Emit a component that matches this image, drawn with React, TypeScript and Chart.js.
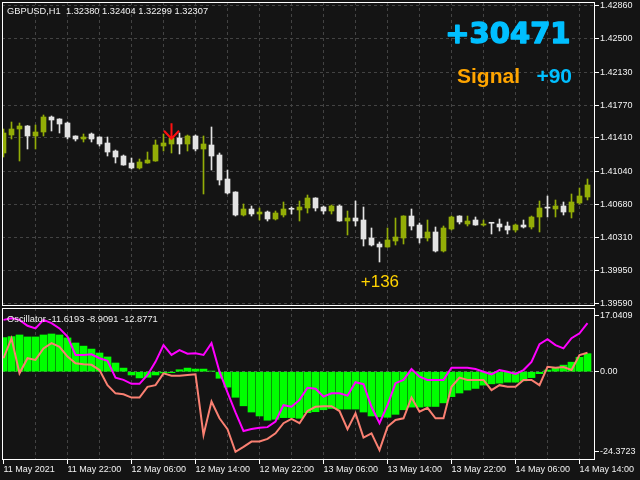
import React, { useEffect, useRef } from "react";
import { Chart, registerables } from "chart.js";

Chart.register(...registerables);

// ---------- texts ----------
const symbolHeader = "GBPUSD,H1  1.32380 1.32404 1.32299 1.32307";
const oscillatorHeader = "Oscillator -11.6193 -8.9091 -12.8771";
const profitText = "+30471";
const signalWord = "Signal";
const signalValue = "+90";
const tradeResult = "+136";

// ---------- time axis ----------
const timeLabels = [
  "11 May 2021", "11 May 22:00", "12 May 06:00", "12 May 14:00", "12 May 22:00",
  "13 May 06:00", "13 May 14:00", "13 May 22:00", "14 May 06:00", "14 May 14:00",
];

// ---------- candles (H1) ----------
const opens = [
  1.41243, 1.41441, 1.41507, 1.4154, 1.4143, 1.41474, 1.41639, 1.41617, 1.41573, 1.4143,
  1.41397, 1.41452, 1.41419, 1.41353, 1.41265, 1.4121, 1.41133, 1.41078, 1.41133, 1.41155,
  1.4132, 1.41342, 1.41408, 1.41342, 1.4143, 1.41287, 1.41331, 1.41221, 1.40957, 1.40814,
  1.40561, 1.40627, 1.40572, 1.40594, 1.40517, 1.40561, 1.40627, 1.40616, 1.40638, 1.40748,
  1.40649, 1.40605, 1.4066, 1.40495, 1.40528, 1.40506, 1.40308, 1.40242, 1.40209, 1.40275,
  1.40308, 1.4055, 1.40451, 1.40308, 1.40374, 1.40165, 1.40407, 1.4055, 1.40462, 1.40506,
  1.40451, 1.40473, 1.40462, 1.4044, 1.40396, 1.40451, 1.40429, 1.40539, 1.4064, 1.40627,
  1.4066, 1.40594, 1.40693, 1.40759,
];
const highs = [
  1.41507, 1.41584, 1.41573, 1.41545, 1.41551, 1.41661, 1.4165, 1.4162, 1.41584, 1.41432,
  1.41452, 1.41463, 1.41421, 1.41419, 1.41276, 1.41221, 1.41188, 1.41177, 1.41254, 1.41386,
  1.41452, 1.41419, 1.41463, 1.41441, 1.41441, 1.4143, 1.41529, 1.41243, 1.41056, 1.40817,
  1.40682, 1.4066, 1.40638, 1.40605, 1.40605, 1.40704, 1.40649, 1.40715, 1.40781, 1.40751,
  1.4066, 1.40671, 1.40671, 1.40605, 1.40715, 1.40649, 1.40418, 1.40264, 1.40418, 1.40528,
  1.40553, 1.40627, 1.40473, 1.40506, 1.40429, 1.4044, 1.4055, 1.40553, 1.4055, 1.40539,
  1.40506, 1.40475, 1.40517, 1.40484, 1.40462, 1.40506, 1.4055, 1.40715, 1.4077, 1.40726,
  1.40704, 1.40792, 1.40858, 1.40957,
];
const lows = [
  1.41199, 1.41397, 1.41155, 1.41287, 1.41287, 1.4143, 1.41485, 1.41463, 1.41397, 1.41375,
  1.41364, 1.41364, 1.4132, 1.4121, 1.41133, 1.41108, 1.41067, 1.41067, 1.4113, 1.41152,
  1.41265, 1.41243, 1.41232, 1.41265, 1.41265, 1.40792, 1.41056, 1.40891, 1.40792, 1.4055,
  1.4055, 1.4055, 1.40506, 1.40495, 1.40506, 1.40539, 1.40572, 1.40495, 1.40583, 1.40605,
  1.40572, 1.40572, 1.40492, 1.40341, 1.4044, 1.4022, 1.4022, 1.40044, 1.40206, 1.40231,
  1.40242, 1.40396, 1.40253, 1.40275, 1.40154, 1.40154, 1.40396, 1.40462, 1.4044, 1.40448,
  1.4044, 1.40352, 1.40385, 1.40352, 1.40374, 1.40418, 1.40407, 1.40374, 1.40539, 1.40539,
  1.40561, 1.40528, 1.40682, 1.40726,
];
const closes = [
  1.41463, 1.41507, 1.4154, 1.4143, 1.41474, 1.41639, 1.41606, 1.41562, 1.41419, 1.41397,
  1.41419, 1.41397, 1.41342, 1.41254, 1.41199, 1.41111, 1.41078, 1.41144, 1.41166, 1.41331,
  1.41353, 1.41408, 1.41342, 1.4143, 1.41287, 1.41342, 1.4121, 1.40946, 1.40803, 1.40561,
  1.40627, 1.40572, 1.40594, 1.40517, 1.40583, 1.40627, 1.40624, 1.40649, 1.40748, 1.40638,
  1.40605, 1.4066, 1.40495, 1.40528, 1.40495, 1.40297, 1.40231, 1.40209, 1.40286, 1.40319,
  1.4055, 1.4044, 1.40308, 1.40374, 1.40165, 1.40418, 1.40539, 1.40484, 1.40495, 1.40451,
  1.40462, 1.4047, 1.40429, 1.40396, 1.40451, 1.40429, 1.40539, 1.40638, 1.40637, 1.4066,
  1.40594, 1.40704, 1.4077, 1.40891,
];

// ---------- oscillator ----------
const histogram = [
  10.4, 10.7, 11.2, 10.6, 10.6, 11.2, 11.5, 11.2, 10.3, 8.75,
  7.8, 6.9, 5.7, 4.5, 2.65, 1.1, -1.0, -1.9, -1.7, -1.0,
  -0.4, -0.3, 0.6, 1.1, 0.8, 0.8, 0.2, -2.0, -4.7, -7.8,
  -10.4, -12.3, -13.5, -14.8, -14.5, -14.0, -14.0, -14.2, -12.5, -12.2,
  -11.6, -11.2, -11.4, -11.4, -11.4, -12.3, -13.5, -13.8, -13.9, -13.0,
  -11.6, -10.8, -10.8, -10.6, -10.6, -9.5, -7.6, -6.5, -5.6, -5.1,
  -4.1, -3.7, -3.5, -3.2, -3.2, -2.8, -1.8, -0.6, 0.5, 1.2,
  2.0, 2.9, 4.4, 5.5,
];
const fastLine = [
  15.8, 16.3, 15.8, 14.0, 13.2, 15.8, 14.8, 13.2, 10.7, 5.1,
  5.1, 5.3, 4.1, 3.3, -1.8, -2.5, -3.7, -3.7, -1.0, 3.0,
  8.1, 5.1, 6.6, 5.5, 5.6, 5.1, 8.7, 0.0, -6.3, -12.4,
  -18.1, -17.5, -17.1, -16.9, -15.2, -10.2, -10.7, -8.6, -4.9, -5.2,
  -7.6, -6.6, -6.6, -7.3, -3.2, -3.8, -10.7, -15.7, -10.2, -3.5,
  -2.5, 0.8, -1.5, -2.5, -2.5, -2.5, 1.2, 1.2, 1.2, 0.8,
  0.0, -0.8, 0.5, 0.0, -0.7, 0.5, 3.0, 8.4, 9.9, 8.1,
  7.1, 10.2, 11.7, 14.8,
];
const slowLine = [
  4.1, 10.2, -0.5, 4.1, 3.6, 7.1, 8.7, 7.6, 4.6, 2.6,
  2.3, 2.1, 0.5, -4.1, -6.6, -6.9, -7.9, -7.9, -4.6, -4.1,
  -0.5, -1.2, -1.2, -1.0, -0.8, -19.3, -9.1, -14.2, -17.5, -24.4,
  -22.9, -21.3, -21.3, -20.5, -18.8, -15.7, -14.4, -15.7, -12.0, -10.7,
  -10.5, -10.5, -12.0, -17.5, -12.7, -20.1, -18.8, -23.9, -16.8, -14.7,
  -14.2, -7.9, -12.2, -11.0, -14.2, -14.2, -4.6, -1.8, -2.5, -2.5,
  -2.5, -5.6, -4.1, -4.6, -4.6, -2.5, -2.5, -4.1, 1.5, 1.2,
  1.4, 0.5, 5.1, 5.8,
];

// ---------- axis ticks ----------
const priceTicks = [1.4286, 1.425, 1.4213, 1.4177, 1.4141, 1.4104, 1.4068, 1.4031, 1.3995, 1.3959];
const oscTicks = [17.0409, 0, -24.3723];
const oscTickLabels = ["17.0409", "0.00", "-24.3723"];

// ---------- annotations (data space) ----------
const arrowBar = 20.875;
const arrowTopPrice = 1.4157;
const arrowTipPrice = 1.414;
const resultBar = 47.05;
const resultPrice = 1.3977;

// ---------- styles ----------
const BG = "#141414";
const FRAME = "#ffffff";
const GRID = "#434343";
const TEXT = "#f2f2f2";
const BULL = "#93ad07";
const BEAR = "#e3e3e3";
const AXIS_FONT = { family: "Liberation Sans", size: 9 };
const X_MIN = -0.1875;
const X_MAX = 73.9375;
const BARS_PER_LABEL = 8;
const BARS_PER_GRID = 4;

const barIndex = opens.map((_, i) => i);
const gridPositions = barIndex.filter((i) => i % BARS_PER_GRID === 0);
const candleColors = barIndex.map((i) => (closes[i] >= opens[i] ? BULL : BEAR));

function makeXScale(showLabels: boolean, height: number) {
  return {
    type: "linear",
    min: X_MIN,
    max: X_MAX,
    offset: false,
    afterBuildTicks: (s: any) => {
      s.ticks = gridPositions.map((v) => ({ value: v }));
    },
    afterFit: (s: any) => {
      s.height = height;
      s.paddingLeft = 0;
      s.paddingRight = 0;
    },
    grid: {
      offset: false,
      display: true,
      drawTicks: showLabels,
      tickLength: 4,
      lineWidth: 1,
      color: (c: any) => (c.tick && c.tick.value === 0 ? "rgba(0,0,0,0)" : GRID),
      tickColor: (c: any) =>
        c.tick && c.tick.value % BARS_PER_LABEL === 0 ? FRAME : "rgba(0,0,0,0)",
      tickBorderDash: [],
    },
    border: { display: false, dash: [3, 3] },
    ticks: {
      display: showLabels,
      autoSkip: false,
      maxRotation: 0,
      minRotation: 0,
      align: "start",
      padding: 0,
      color: TEXT,
      font: AXIS_FONT,
      callback: (v: any) =>
        v % BARS_PER_LABEL === 0 ? timeLabels[v / BARS_PER_LABEL] ?? "" : "",
    },
  };
}

function makeYScale(min: number, max: number, ticks: number[], label: (v: number, i: number) => string, gridColor: (v: number) => string) {
  return {
    type: "linear",
    position: "right",
    min,
    max,
    afterBuildTicks: (s: any) => {
      s.ticks = ticks.map((v) => ({ value: v }));
    },
    afterFit: (s: any) => {
      s.width = 45;
      s.paddingTop = 0;
      s.paddingBottom = 0;
    },
    grid: {
      display: true,
      drawTicks: true,
      tickLength: 4,
      lineWidth: 1,
      color: (c: any) => (c.tick ? gridColor(c.tick.value) : GRID),
      tickColor: FRAME,
      tickBorderDash: [],
    },
    border: { display: false, dash: [3, 3] },
    ticks: {
      autoSkip: false,
      padding: 1,
      color: TEXT,
      font: AXIS_FONT,
      callback: (v: any, i: number) => label(v, i),
    },
  };
}

const backgroundPlugin = {
  id: "bgFill",
  beforeDraw(chart: any) {
    const { ctx, width, height } = chart;
    ctx.save();
    ctx.fillStyle = BG;
    ctx.fillRect(0, 0, width, height);
    ctx.restore();
  },
};

function drawFrame(chart: any) {
  const { ctx, chartArea: a } = chart;
  ctx.save();
  ctx.strokeStyle = FRAME;
  ctx.lineWidth = 1;
  ctx.strokeRect(a.left + 0.5, a.top + 0.5, a.right - a.left - 1, a.bottom - a.top - 1);
  ctx.restore();
}

const priceOverlay = {
  id: "priceOverlay",
  afterDraw(chart: any) {
    const { ctx, scales } = chart;
    drawFrame(chart);
    ctx.save();
    ctx.textBaseline = "alphabetic";
    ctx.textAlign = "left";
    ctx.fillStyle = TEXT;
    ctx.font = '9.3px "Liberation Sans"';
    ctx.fillText(symbolHeader, 7, 14);

    ctx.font = 'bold 29px "DejaVu Sans"';
    ctx.fillStyle = "#00bfff";
    ctx.strokeStyle = "#00bfff";
    ctx.lineWidth = 1.4;
    ctx.lineJoin = "round";
    ctx.textAlign = "right";
    ctx.fillText(profitText, 570.5, 43);
    ctx.strokeText(profitText, 570.5, 43);

    ctx.font = 'bold 21px "Liberation Sans"';
    ctx.textAlign = "left";
    ctx.fillStyle = "#ffa500";
    ctx.fillText(signalWord, 457, 83);
    ctx.textAlign = "right";
    ctx.fillStyle = "#00bfff";
    ctx.fillText(signalValue, 572, 83);

    // trade result label
    const x = scales.x.getPixelForValue(resultBar);
    const y = scales.y.getPixelForValue(resultPrice);
    ctx.font = '17px "Liberation Sans"';
    ctx.textAlign = "center";
    ctx.fillStyle = "#ffd200";
    ctx.fillText(tradeResult, x, y);

    // signal arrow
    const ax = Math.round(scales.x.getPixelForValue(arrowBar)) + 0.5;
    const ay1 = scales.y.getPixelForValue(arrowTopPrice);
    const ay2 = scales.y.getPixelForValue(arrowTipPrice);
    ctx.strokeStyle = "#ff1010";
    ctx.lineWidth = 2;
    ctx.lineJoin = "miter";
    ctx.beginPath();
    ctx.moveTo(ax, ay1);
    ctx.lineTo(ax, ay2);
    ctx.moveTo(ax - 7.5, ay2 - 8);
    ctx.lineTo(ax, ay2);
    ctx.lineTo(ax + 7.5, ay2 - 8);
    ctx.stroke();
    ctx.restore();
  },
};

const oscOverlay = {
  id: "oscOverlay",
  afterDraw(chart: any) {
    const { ctx } = chart;
    drawFrame(chart);
    ctx.save();
    ctx.fillStyle = TEXT;
    ctx.font = '9.3px "Liberation Sans"';
    ctx.textAlign = "left";
    ctx.textBaseline = "alphabetic";
    ctx.fillText(oscillatorHeader, 7, 15);
    ctx.restore();
  },
};

export default function App() {
  const priceRef = useRef<HTMLCanvasElement | null>(null);
  const oscRef = useRef<HTMLCanvasElement | null>(null);

  useEffect(() => {
    if (!priceRef.current || !oscRef.current) return;

    const priceChart = new Chart(priceRef.current, {
      type: "bar",
      data: {
        datasets: [
          {
            type: "bar",
            label: "body",
            data: barIndex.map((i) => ({ x: i, y: [opens[i], closes[i]] })),
            backgroundColor: candleColors,
            barThickness: 5,
            minBarLength: 1,
            grouped: false,
            borderWidth: 0,
            order: 1,
          } as any,
          {
            type: "bar",
            label: "wick",
            data: barIndex.map((i) => ({ x: i, y: [lows[i], highs[i]] })),
            backgroundColor: candleColors,
            barThickness: 1,
            minBarLength: 1,
            grouped: false,
            borderWidth: 0,
            order: 2,
          } as any,
        ],
      },
      options: {
        responsive: false,
        animation: false,
        events: [],
        layout: { padding: { top: 2, bottom: 1, left: 2, right: 0 } },
        plugins: { legend: { display: false }, tooltip: { enabled: false } },
        scales: {
          x: makeXScale(false, 0) as any,
          y: makeYScale(
            1.3956,
            1.42904,
            priceTicks,
            (v) => Number(v).toFixed(5),
            () => GRID
          ) as any,
        },
      },
      plugins: [backgroundPlugin, priceOverlay],
    });

    const oscChart = new Chart(oscRef.current, {
      type: "bar",
      data: {
        datasets: [
          {
            type: "line",
            label: "fast",
            data: barIndex.map((i) => ({ x: i, y: fastLine[i] })),
            borderColor: "#ff00ff",
            borderWidth: 2,
            pointRadius: 0,
            tension: 0,
            order: 1,
          } as any,
          {
            type: "line",
            label: "slow",
            data: barIndex.map((i) => ({ x: i, y: slowLine[i] })),
            borderColor: "#fa8072",
            borderWidth: 2,
            pointRadius: 0,
            tension: 0,
            order: 2,
          } as any,
          {
            type: "bar",
            label: "histogram",
            data: barIndex.map((i) => ({ x: i, y: histogram[i] })),
            backgroundColor: "#00ff00",
            barThickness: 7,
            grouped: false,
            borderWidth: 0,
            order: 3,
          } as any,
        ],
      },
      options: {
        responsive: false,
        animation: false,
        events: [],
        layout: { padding: { top: 1, bottom: 0, left: 2, right: 0 } },
        plugins: { legend: { display: false }, tooltip: { enabled: false } },
        scales: {
          x: makeXScale(true, 20) as any,
          y: makeYScale(
            -26.92,
            19.42,
            oscTicks,
            (_v, i) => oscTickLabels[i],
            (v) => (v === 0 ? "#5a5a5a" : "rgba(0,0,0,0)")
          ) as any,
        },
      },
      plugins: [backgroundPlugin, oscOverlay],
    });

    return () => {
      priceChart.destroy();
      oscChart.destroy();
    };
  }, []);

  return (
    <div
      style={{
        position: "fixed",
        left: 0,
        top: 0,
        width: 640,
        height: 480,
        background: BG,
        overflow: "hidden",
      }}
    >
      <canvas
        ref={priceRef}
        width={640}
        height={307}
        style={{ position: "absolute", left: 0, top: 0, width: 640, height: 307 }}
      />
      <canvas
        ref={oscRef}
        width={640}
        height={173}
        style={{ position: "absolute", left: 0, top: 307, width: 640, height: 173 }}
      />
    </div>
  );
}
